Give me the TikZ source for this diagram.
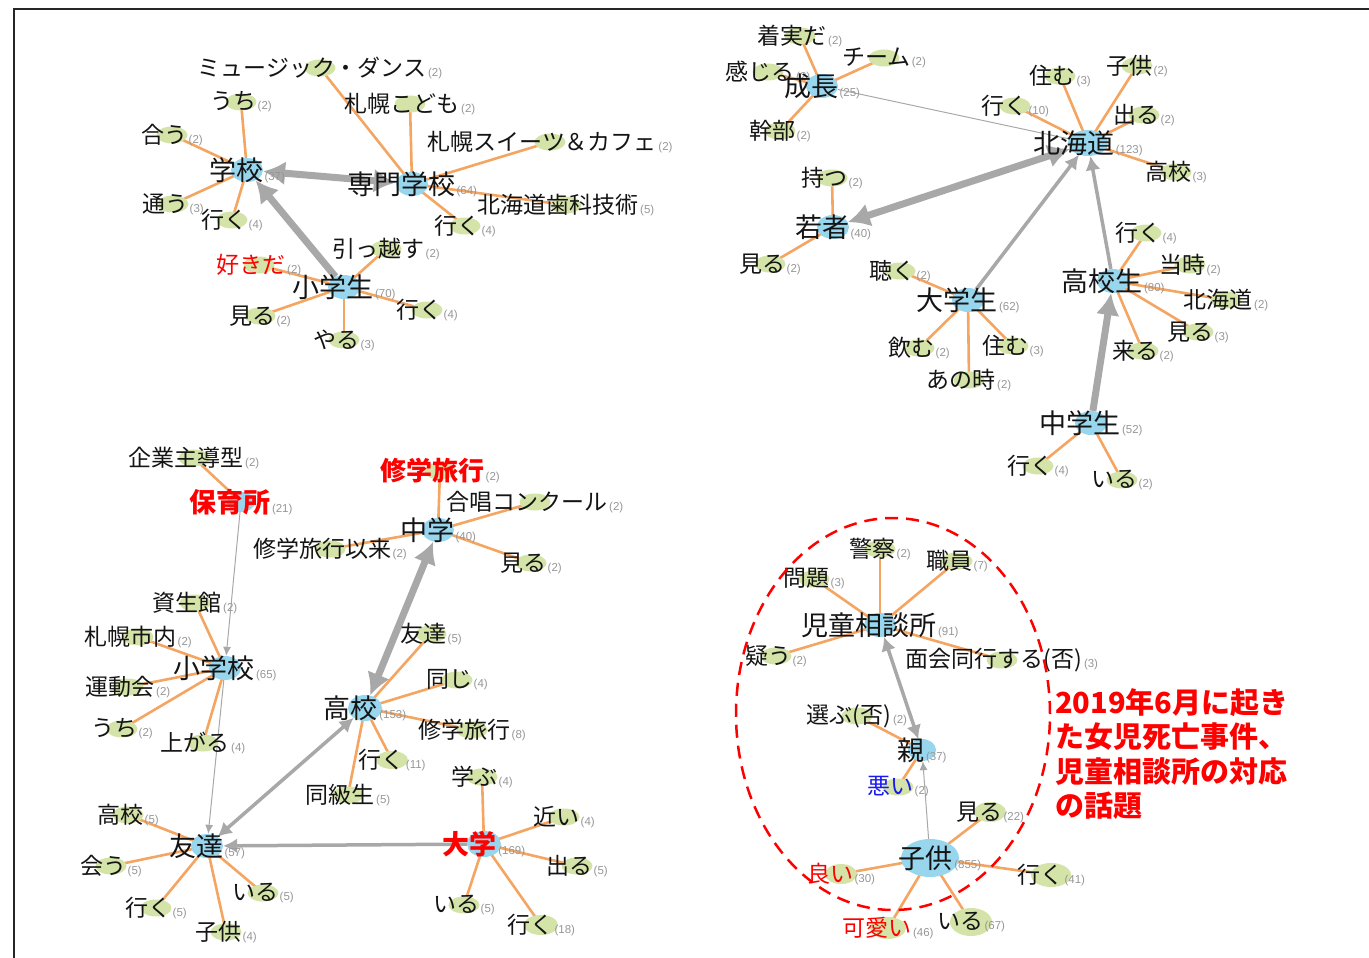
\documentclass[tikz,border=0pt]{standalone}
\usepackage{fontspec}
\setmainfont{Noto Sans CJK JP}
\newfontfamily\cntfont{Liberation Sans}
\usetikzlibrary{arrows.meta, shapes.geometric, backgrounds}
\definecolor{leafgreen}{RGB}{212,228,168}
\definecolor{hubblue}{RGB}{152,214,238}
\definecolor{edgeorange}{RGB}{245,165,98}
\definecolor{arrowgray}{RGB}{168,168,168}
\definecolor{cntgray}{RGB}{150,150,150}
\definecolor{wordred}{RGB}{255,0,0}
\definecolor{wordblue}{RGB}{25,25,240}
\newcommand{\cnt}[1]{\hspace{1.5pt}{\cntfont\mdseries\fontsize{11.5}{11.5}\selectfont\color{cntgray}(#1)}}
\tikzset{
  leaf/.style={ellipse, fill=leafgreen, minimum width=31pt, minimum height=17pt, inner sep=0pt},
  hub/.style={ellipse, fill=hubblue, minimum width=32pt, minimum height=24pt, inner sep=0pt},
  leaftxt/.style={font=\fontsize{23}{23}\selectfont, text=black!92, inner sep=0pt},
  hubtxt/.style={font=\fontsize{27}{27}\selectfont, text=black!92, inner sep=0pt},
  redtxt/.style={font=\fontsize{27}{27}\selectfont\bfseries, text=wordred, inner sep=0pt},
  link/.style={edgeorange, line width=2.6pt},
  flow/.style={arrowgray},
  bigboth/.style={line width=7pt, {Latex[length=22pt,width=24pt]}-{Latex[length=22pt,width=24pt]}},
  bigarrow/.style={line width=7pt, -{Latex[length=22pt,width=24pt]}},
  midboth/.style={line width=3.5pt, {Latex[length=14pt,width=15pt]}-{Latex[length=14pt,width=15pt]}},
  midarrow/.style={line width=3.5pt, -{Latex[length=14pt,width=15pt]}},
  thinarrow/.style={line width=1pt, -{Latex[length=9pt,width=8pt]}}
}

\begin{document}
\begin{tikzpicture}[x=1pt, y=-1pt]
            \useasboundingbox (0,0) rectangle (1369,958);
            \draw[line width=2pt, black!85] (14,958) -- (14,9) -- (1369,9);

            \node[leaf, label={[leaftxt]center:ミュージック・ダンス\cnt{2}}] (dance) at (320,68) {};
            \node[leaf, label={[leaftxt]center:うち\cnt{2}}] (uchi1) at (241,102) {};
            \node[leaf, label={[leaftxt]center:合う\cnt{2}}] (au1) at (172,135) {};
            \node[leaf, label={[leaftxt]center:通う\cnt{3}}] (kayou) at (173,204) {};
            \node[leaf, label={[leaftxt]center:行く\cnt{4}}] (iku1) at (232,220) {};
            \node[leaf, label={[leaftxt]center:札幌こども\cnt{2}}] (sapkodomo) at (410,104) {};
            \node[leaf, label={[leaftxt]center:札幌スイーツ＆カフェ\cnt{2}}] (sweets) at (550,142) {};
            \node[leaf, label={[leaftxt]center:北海道歯科技術\cnt{5}}] (shika) at (566,205) {};
            \node[leaf, label={[leaftxt]center:行く\cnt{4}}] (iku2) at (465,226) {};
            \node[leaf, label={[leaftxt]center:引っ越す\cnt{2}}] (hikkosu) at (386,249) {};
            \node[leaf, label={[leaftxt, text=wordred]center:好きだ\cnt{2}}] (sukida) at (259,265) {};
            \node[leaf, label={[leaftxt]center:見る\cnt{2}}] (miru1) at (260,316) {};
            \node[leaf, label={[leaftxt]center:行く\cnt{4}}] (iku3) at (427,310) {};
            \node[leaf, label={[leaftxt]center:やる\cnt{3}}] (yaru) at (344,340) {};
            \node[hub, label={[hubtxt]center:学校\cnt{37}}] (gakko) at (247,170) {};
            \node[hub, label={[hubtxt]center:専門学校\cnt{64}}] (senmon) at (412,184) {};
            \node[hub, label={[hubtxt]center:小学生\cnt{70}}] (shogakusei) at (344,287) {};

            \node[leaf, label={[leaftxt]center:着実だ\cnt{2}}] (chakujitsu) at (800,36) {};
            \node[leaf, label={[leaftxt]center:チーム\cnt{2}}] (team) at (884,58) {};
            \node[leaf, label={[leaftxt]center:感じる\cnt{2}}] (kanjiru) at (768,72) {};
            \node[leaf, label={[leaftxt]center:幹部\cnt{2}}] (kanbu) at (780,131) {};
            \node[leaf, label={[leaftxt]center:行く\cnt{10}}] (iku4) at (1015,106) {};
            \node[leaf, label={[leaftxt]center:住む\cnt{3}}] (sumu1) at (1060,76) {};
            \node[leaf, label={[leaftxt]center:子供\cnt{2}}] (kodomo1) at (1137,66) {};
            \node[leaf, label={[leaftxt]center:出る\cnt{2}}] (deru1) at (1144,115) {};
            \node[leaf, label={[leaftxt]center:高校\cnt{3}}] (koko1) at (1176,172) {};
            \node[leaf, label={[leaftxt]center:持つ\cnt{2}}] (motsu) at (832,178) {};
            \node[leaf, label={[leaftxt]center:見る\cnt{2}}] (miru2) at (770,264) {};
            \node[leaf, label={[leaftxt]center:聴く\cnt{2}}] (kiku) at (900,271) {};
            \node[leaf, label={[leaftxt]center:飲む\cnt{2}}] (nomu) at (919,348) {};
            \node[leaf, label={[leaftxt]center:住む\cnt{3}}] (sumu2) at (1013,346) {};
            \node[leaf, label={[leaftxt]center:あの時\cnt{2}}] (anotoki) at (969,380) {};
            \node[leaf, label={[leaftxt]center:行く\cnt{4}}] (iku5) at (1146,233) {};
            \node[leaf, label={[leaftxt]center:当時\cnt{2}}] (toji) at (1190,265) {};
            \node[leaf, label={[leaftxt]center:北海道\cnt{2}}] (hokkaido2) at (1226,300) {};
            \node[leaf, label={[leaftxt]center:見る\cnt{3}}] (miru3) at (1198,332) {};
            \node[leaf, label={[leaftxt]center:来る\cnt{2}}] (kuru) at (1143,351) {};
            \node[leaf, label={[leaftxt]center:行く\cnt{4}}] (iku6) at (1038,466) {};
            \node[leaf, label={[leaftxt]center:いる\cnt{2}}] (iru1) at (1122,480) {};
            \node[hub, label={[hubtxt]center:成長\cnt{25}}] (seicho) at (822,86) {};
            \node[hub, minimum width=40pt, minimum height=26pt, label={[hubtxt]center:北海道\cnt{123}}] (hokkaido) at (1088,143) {};
            \node[hub, label={[hubtxt]center:若者\cnt{40}}] (wakamono) at (833,227) {};
            \node[hub, label={[hubtxt]center:大学生\cnt{62}}] (daigakusei) at (968,300) {};
            \node[hub, label={[hubtxt]center:高校生\cnt{80}}] (kokosei) at (1113,281) {};
            \node[hub, label={[hubtxt]center:中学生\cnt{52}}] (chugakusei) at (1091,423) {};

            \node[leaf, label={[leaftxt]center:企業主導型\cnt{2}}] (kigyo) at (194,458) {};
            \node[leaf, label={[redtxt, font=\fontsize{26}{26}\selectfont\bfseries]center:修学旅行\cnt{2}}] (shugaku1) at (440,471) {};
            \node[leaf, label={[leaftxt]center:合唱コンクール\cnt{2}}] (gassho) at (535,502) {};
            \node[leaf, label={[leaftxt]center:修学旅行以来\cnt{2}}] (irai) at (330,549) {};
            \node[leaf, label={[leaftxt]center:見る\cnt{2}}] (miru4) at (531,563) {};
            \node[leaf, label={[leaftxt]center:資生館\cnt{2}}] (shiseikan) at (195,603) {};
            \node[leaf, label={[leaftxt]center:札幌市内\cnt{2}}] (shinai) at (138,637) {};
            \node[leaf, label={[leaftxt]center:運動会\cnt{2}}] (undokai) at (128,687) {};
            \node[leaf, label={[leaftxt]center:うち\cnt{2}}] (uchi2) at (122,729) {};
            \node[leaf, label={[leaftxt]center:上がる\cnt{4}}] (agaru) at (203,743) {};
            \node[leaf, label={[leaftxt]center:友達\cnt{5}}] (tomodachi2) at (431,634) {};
            \node[leaf, label={[leaftxt]center:同じ\cnt{4}}] (onaji) at (457,680) {};
            \node[leaf, label={[leaftxt]center:修学旅行\cnt{8}}] (shugaku2) at (472,730) {};
            \node[leaf, minimum width=32pt, minimum height=18pt, label={[leaftxt]center:行く\cnt{11}}] (iku7) at (392,760) {};
            \node[leaf, label={[leaftxt]center:同級生\cnt{5}}] (dokyusei) at (348,795) {};
            \node[leaf, label={[leaftxt]center:学ぶ\cnt{4}}] (manabu) at (482,777) {};
            \node[leaf, label={[leaftxt]center:近い\cnt{4}}] (chikai) at (564,817) {};
            \node[leaf, label={[leaftxt]center:出る\cnt{5}}] (deru2) at (577,866) {};
            \node[leaf, label={[leaftxt]center:いる\cnt{5}}] (iru2) at (464,905) {};
            \node[leaf, minimum width=34pt, minimum height=20pt, label={[leaftxt]center:行く\cnt{18}}] (iku8) at (541,925) {};
            \node[leaf, label={[leaftxt]center:高校\cnt{5}}] (koko2) at (128,815) {};
            \node[leaf, label={[leaftxt]center:会う\cnt{5}}] (au2) at (111,866) {};
            \node[leaf, label={[leaftxt]center:行く\cnt{5}}] (iku9) at (156,908) {};
            \node[leaf, label={[leaftxt]center:いる\cnt{5}}] (iru3) at (263,893) {};
            \node[leaf, label={[leaftxt]center:子供\cnt{4}}] (kodomo2) at (226,932) {};
            \node[hub, minimum width=28pt, minimum height=20pt, label={[redtxt]center:保育所\cnt{21}}] (hoikusho) at (241,502) {};
            \node[hub, label={[hubtxt]center:中学\cnt{40}}] (chugaku) at (438,530) {};
            \node[hub, label={[hubtxt]center:小学校\cnt{65}}] (shogakko) at (225,668) {};
            \node[hub, minimum width=34pt, minimum height=26pt, label={[hubtxt]center:高校\cnt{153}}] (koko) at (365,708) {};
            \node[hub, label={[hubtxt]center:友達\cnt{57}}] (tomodachi) at (207,846) {};
            \node[hub, minimum width=34pt, minimum height=26pt, label={[redtxt]center:大学\cnt{169}}] (daigaku) at (484,844) {};

            \node[leaf, label={[leaftxt]center:警察\cnt{2}}] (keisatsu) at (880,549) {};
            \node[leaf, label={[leaftxt]center:職員\cnt{7}}] (shokuin) at (957,561) {};
            \node[leaf, label={[leaftxt]center:問題\cnt{3}}] (mondai) at (814,579) {};
            \node[leaf, label={[leaftxt]center:疑う\cnt{2}}] (utagau) at (776,656) {};
            \node[leaf, label={[leaftxt]center:面会同行する(否)\cnt{3}}] (menkai) at (1002,660) {};
            \node[leaf, label={[leaftxt]center:選ぶ(否)\cnt{2}}] (erabu) at (857,716) {};
            \node[leaf, label={[leaftxt, text=wordblue]center:悪い\cnt{2}}] (warui) at (898,787) {};
            \node[leaf, minimum width=32pt, minimum height=20pt, label={[leaftxt]center:見る\cnt{22}}] (miru5) at (990,812) {};
            \node[leaf, minimum width=32pt, minimum height=20pt, label={[leaftxt, text=wordred]center:良い\cnt{30}}] (yoi) at (841,874) {};
            \node[leaf, minimum width=40pt, minimum height=24pt, label={[leaftxt]center:行く\cnt{41}}] (iku10) at (1051,875) {};
            \node[leaf, minimum width=36pt, minimum height=22pt, label={[leaftxt, text=wordred]center:可愛い\cnt{46}}] (kawaii) at (888,928) {};
            \node[leaf, minimum width=42pt, minimum height=28pt, label={[leaftxt]center:いる\cnt{67}}] (iru4) at (971,922) {};
            \node[hub, label={[hubtxt]center:児童相談所\cnt{91}}] (jiso) at (880,625) {};
            \node[hub, minimum width=28pt, minimum height=22pt, label={[hubtxt]center:親\cnt{37}}] (oya) at (922,750) {};
            \node[hub, minimum width=58pt, minimum height=38pt, label={[hubtxt, xshift=10pt]center:子供\cnt{855}}] (kodomo) at (930,858) {};

            \draw[wordred, line width=2.5pt, dash pattern=on 13pt off 8pt] (893,714) ellipse [x radius=157pt, y radius=196pt];
            \node[anchor=north west, align=left, inner sep=0pt, text=wordred, font=\fontsize{29}{34.5}\selectfont\bfseries] (topic) at (1055,688) {2019年6月に起き\\た女児死亡事件、\\児童相談所の対応\\の話題};

            \begin{pgfonlayer}{background}
            \draw[link] (senmon.center) -- (dance.center);
            \draw[link] (gakko.center) -- (uchi1.center);
            \draw[link] (gakko.center) -- (au1.center);
            \draw[link] (gakko.center) -- (kayou.center);
            \draw[link] (gakko.center) -- (iku1.center);
            \draw[link] (senmon.center) -- (sapkodomo.center);
            \draw[link] (senmon.center) -- (sweets.center);
            \draw[link] (senmon.center) -- (shika.center);
            \draw[link] (senmon.center) -- (iku2.center);
            \draw[link] (shogakusei.center) -- (hikkosu.center);
            \draw[link] (shogakusei.center) -- (sukida.center);
            \draw[link] (shogakusei.center) -- (miru1.center);
            \draw[link] (shogakusei.center) -- (iku3.center);
            \draw[link] (shogakusei.center) -- (yaru.center);
            \draw[link] (seicho.center) -- (chakujitsu.center);
            \draw[link] (seicho.center) -- (team.center);
            \draw[link] (seicho.center) -- (kanjiru.center);
            \draw[link] (seicho.center) -- (kanbu.center);
            \draw[link] (hokkaido.center) -- (iku4.center);
            \draw[link] (hokkaido.center) -- (sumu1.center);
            \draw[link] (hokkaido.center) -- (kodomo1.center);
            \draw[link] (hokkaido.center) -- (deru1.center);
            \draw[link] (hokkaido.center) -- (koko1.center);
            \draw[link] (wakamono.center) -- (motsu.center);
            \draw[link] (wakamono.center) -- (miru2.center);
            \draw[link] (daigakusei.center) -- (kiku.center);
            \draw[link] (daigakusei.center) -- (nomu.center);
            \draw[link] (daigakusei.center) -- (sumu2.center);
            \draw[link] (daigakusei.center) -- (anotoki.center);
            \draw[link] (kokosei.center) -- (iku5.center);
            \draw[link] (kokosei.center) -- (toji.center);
            \draw[link] (kokosei.center) -- (hokkaido2.center);
            \draw[link] (kokosei.center) -- (miru3.center);
            \draw[link] (kokosei.center) -- (kuru.center);
            \draw[link] (chugakusei.center) -- (iku6.center);
            \draw[link] (chugakusei.center) -- (iru1.center);
            \draw[link] (hoikusho.center) -- (kigyo.center);
            \draw[link] (chugaku.center) -- (shugaku1.center);
            \draw[link] (chugaku.center) -- (gassho.center);
            \draw[link] (chugaku.center) -- (irai.center);
            \draw[link] (chugaku.center) -- (miru4.center);
            \draw[link] (shogakko.center) -- (shiseikan.center);
            \draw[link] (shogakko.center) -- (shinai.center);
            \draw[link] (shogakko.center) -- (undokai.center);
            \draw[link] (shogakko.center) -- (uchi2.center);
            \draw[link] (shogakko.center) -- (agaru.center);
            \draw[link] (koko.center) -- (tomodachi2.center);
            \draw[link] (koko.center) -- (onaji.center);
            \draw[link] (koko.center) -- (shugaku2.center);
            \draw[link] (koko.center) -- (iku7.center);
            \draw[link] (koko.center) -- (dokyusei.center);
            \draw[link] (daigaku.center) -- (manabu.center);
            \draw[link] (daigaku.center) -- (chikai.center);
            \draw[link] (daigaku.center) -- (deru2.center);
            \draw[link] (daigaku.center) -- (iru2.center);
            \draw[link] (daigaku.center) -- (iku8.center);
            \draw[link] (tomodachi.center) -- (koko2.center);
            \draw[link] (tomodachi.center) -- (au2.center);
            \draw[link] (tomodachi.center) -- (iku9.center);
            \draw[link] (tomodachi.center) -- (iru3.center);
            \draw[link] (tomodachi.center) -- (kodomo2.center);
            \draw[link] (jiso.center) -- (keisatsu.center);
            \draw[link] (jiso.center) -- (shokuin.center);
            \draw[link] (jiso.center) -- (mondai.center);
            \draw[link] (jiso.center) -- (utagau.center);
            \draw[link] (jiso.center) -- (menkai.center);
            \draw[link] (oya.center) -- (erabu.center);
            \draw[link] (oya.center) -- (warui.center);
            \draw[link] (kodomo.center) -- (miru5.center);
            \draw[link] (kodomo.center) -- (yoi.center);
            \draw[link] (kodomo.center) -- (iku10.center);
            \draw[link] (kodomo.center) -- (kawaii.center);
            \draw[link] (kodomo.center) -- (iru4.center);

            \draw[flow, bigboth] (gakko) -- (senmon);
            \draw[flow, bigarrow] (shogakusei) -- (gakko);
            \draw[flow, line width=1pt] (seicho) -- (hokkaido);
            \draw[flow, bigboth] (hokkaido) -- (wakamono);
            \draw[flow, midarrow] (daigakusei) -- (hokkaido);
            \draw[flow, midarrow] (kokosei) -- (hokkaido);
            \draw[flow, bigarrow] (chugakusei) -- (kokosei);
            \draw[flow, thinarrow] (hoikusho) -- (shogakko);
            \draw[flow, thinarrow] (shogakko) -- (tomodachi);
            \draw[flow, bigboth] (chugaku) -- (koko);
            \draw[flow, midboth] (tomodachi) -- (koko);
            \draw[flow, midarrow] (daigaku) -- (tomodachi);
            \draw[flow, midboth] (jiso) -- (oya);
            \draw[flow, thinarrow] (kodomo) -- (oya);
            \end{pgfonlayer}
        \end{tikzpicture}
\end{document}
